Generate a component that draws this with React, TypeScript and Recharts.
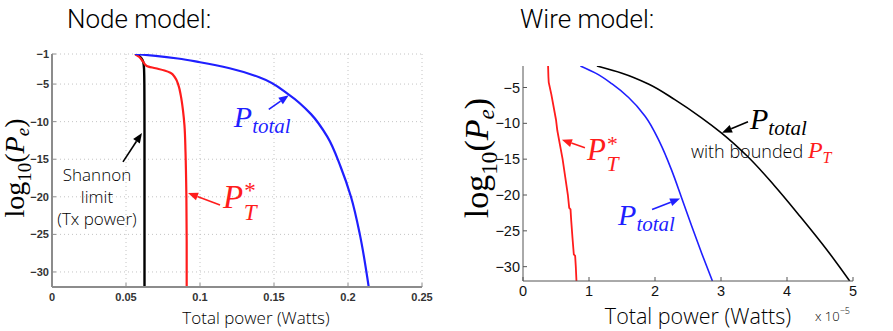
import React from 'react';
import { LineChart, Line, XAxis, YAxis, CartesianGrid, ReferenceDot } from 'recharts';

// node model: x in Watts, y = log10(Pe)
const nodeXTicks = [0, 0.05, 0.1, 0.15, 0.2, 0.25];
const nodeYTicks = [-30, -25, -20, -15, -10, -5, -1];
const nodeShannon = [
  { x: 0.0561, y: -1 }, { x: 0.0585, y: -1.2 }, { x: 0.0605, y: -1.6 }, { x: 0.0617, y: -2.1 },
  { x: 0.0622, y: -3 }, { x: 0.0624, y: -5 }, { x: 0.0625, y: -12 }, { x: 0.0625, y: -32 },
];
const nodePT = [
  { x: 0.0561, y: -1 }, { x: 0.059, y: -1.4 }, { x: 0.0615, y: -2.0 }, { x: 0.064, y: -2.6 },
  { x: 0.07, y: -2.9 }, { x: 0.076, y: -3.2 }, { x: 0.08, y: -3.5 }, { x: 0.083, y: -4.1 },
  { x: 0.0855, y: -5.2 }, { x: 0.087, y: -6.5 }, { x: 0.0885, y: -8.5 }, { x: 0.0895, y: -10.5 },
  { x: 0.0902, y: -14 }, { x: 0.0908, y: -20 }, { x: 0.091, y: -26 }, { x: 0.091, y: -32 },
];
const nodeTotal = [
  { x: 0.0561, y: -1 }, { x: 0.07, y: -1.25 }, { x: 0.085, y: -1.6 }, { x: 0.1, y: -2.1 },
  { x: 0.12, y: -2.9 }, { x: 0.14, y: -4.1 }, { x: 0.16, y: -6.4 }, { x: 0.175, y: -9 },
  { x: 0.186, y: -12 }, { x: 0.195, y: -16 }, { x: 0.202, y: -20 }, { x: 0.208, y: -25 },
  { x: 0.214, y: -32 },
];

// wire model: x in units of 1e-5 Watts
const wireXTicks = [0, 1, 2, 3, 4, 5];
const wireYTicks = [-30, -25, -20, -15, -10, -5];
const wirePT = [
  { x: 0.38, y: -2 }, { x: 0.385, y: -3.5 }, { x: 0.39, y: -4.3 }, { x: 0.43, y: -6 },
  { x: 0.47, y: -8 }, { x: 0.5, y: -9.5 }, { x: 0.52, y: -11 }, { x: 0.56, y: -13 },
  { x: 0.6, y: -15 }, { x: 0.64, y: -17.5 }, { x: 0.68, y: -20 }, { x: 0.7, y: -21.8 },
  { x: 0.72, y: -22 }, { x: 0.73, y: -23.5 }, { x: 0.75, y: -26 }, { x: 0.77, y: -28.3 },
  { x: 0.79, y: -28.5 }, { x: 0.8, y: -30 }, { x: 0.81, y: -32 },
];
const wireTotal = [
  { x: 0.87, y: -2 }, { x: 1.1, y: -3 }, { x: 1.35, y: -4.5 }, { x: 1.6, y: -6.4 },
  { x: 1.85, y: -9 }, { x: 2.08, y: -12.8 }, { x: 2.25, y: -16.5 }, { x: 2.4, y: -20.3 },
  { x: 2.55, y: -24.2 }, { x: 2.71, y: -28.2 }, { x: 2.87, y: -32 },
];
const wireBounded = [
  { x: 1.12, y: -2 }, { x: 1.5, y: -3.0 }, { x: 1.9, y: -4.5 }, { x: 2.3, y: -6.7 },
  { x: 2.7, y: -9.2 }, { x: 3.0, y: -11.3 }, { x: 3.4, y: -14.6 }, { x: 3.8, y: -18.6 },
  { x: 4.2, y: -23 }, { x: 4.6, y: -27.6 }, { x: 4.95, y: -32 },
];

const RED = '#ff1c1c';
const BLUE = '#1f1fff';
const SERIF = "'Liberation Serif', 'DejaVu Serif', serif";
const SANS = "'Open Sans', Roboto, sans-serif";
const TITLE = "Roboto, 'Open Sans', sans-serif";

const minus = (v: number) => String(v).replace('-', '\u2212');

function Arrow({ x1, y1, x2, y2, color }: { x1: number; y1: number; x2: number; y2: number; color: string }) {
  const a = Math.atan2(y2 - y1, x2 - x1);
  const len = 10;
  const w = 4;
  const bx = x2 - len * Math.cos(a);
  const by = y2 - len * Math.sin(a);
  const pts = `${x2},${y2} ${bx + w * Math.sin(a)},${by - w * Math.cos(a)} ${bx - w * Math.sin(a)},${by + w * Math.cos(a)}`;
  return (
    <g>
      <line x1={x1} y1={y1} x2={bx} y2={by} stroke={color} strokeWidth={1.6} />
      <polygon points={pts} fill={color} />
    </g>
  );
}

const PTotal = ({ x, y, color, size }: { x: number; y: number; color: string; size: number }) => (
  <text x={x} y={y} fill={color} fontFamily={SERIF} fontStyle="italic" fontSize={size}>
    <tspan>P</tspan>
    <tspan fontSize={size * 0.7} dy={size * 0.2}>total</tspan>
  </text>
);

const PStar = ({ x, y, color, size }: { x: number; y: number; color: string; size: number }) => (
  <text x={x} y={y} fill={color} fontFamily={SERIF} fontSize={size}>
    <tspan fontStyle="italic">P</tspan>
    <tspan fontSize={size * 0.7} dx={1} dy={-size * 0.3}>*</tspan>
    <tspan fontSize={size * 0.7} fontStyle="italic" dx={-size * 0.36} dy={size * 0.65}>T</tspan>
  </text>
);

const yLabel = (cx: number, cy: number, size: number) => (
  <text x={cx} y={cy} transform={`rotate(-90, ${cx}, ${cy})`} textAnchor="middle" fontFamily={SERIF} fontSize={size} fill="#000">
    <tspan>log</tspan>
    <tspan fontSize={size * 0.68} dy={size * 0.25}>10</tspan>
    <tspan dy={-size * 0.25}>(</tspan>
    <tspan fontStyle="italic">P</tspan>
    <tspan fontStyle="italic" fontSize={size * 0.68} dy={size * 0.18}>e</tspan>
    <tspan dy={-size * 0.18}>)</tspan>
  </text>
);

const NodeChart = () => {
  const axisStyle = { stroke: '#8c8c8c', strokeWidth: 2 };
  const tickStyle = { fontSize: 11, fontWeight: 700, fill: '#333', fontFamily: "'Liberation Sans', Arial, sans-serif" };
  return (
    <LineChart width={440} height={331} margin={{ top: 54, right: 18, left: 0, bottom: 0 }}>
      <CartesianGrid stroke="#c4c4c4" strokeDasharray="1 3" />
      <XAxis
        type="number" dataKey="x" domain={[0, 0.25]} ticks={nodeXTicks} height={44}
        axisLine={axisStyle} tickLine={{ stroke: '#8c8c8c' }} tickSize={-4} tickMargin={10}
        tick={tickStyle} allowDataOverflow
        label={{ content: () => (
          <text x={256} y={324} textAnchor="middle" fontFamily={SANS} fontWeight={300} fontSize={17} fill="#000">Total power (Watts)</text>
        ) }}
      />
      <XAxis xAxisId="t" orientation="top" type="number" domain={[0, 0.25]} ticks={nodeXTicks} height={0}
        axisLine={axisStyle} tickLine={{ stroke: '#8c8c8c' }} tickSize={-4} tick={false} />
      <YAxis
        type="number" domain={[-32, -1]} ticks={nodeYTicks} width={52}
        axisLine={axisStyle} tickLine={{ stroke: '#8c8c8c' }} tickSize={-4} tickMargin={7}
        tick={tickStyle} tickFormatter={minus} allowDataOverflow
        label={{ content: () => yLabel(24, 168, 28) }}
      />
      <YAxis yAxisId="r" orientation="right" type="number" domain={[-32, -1]} ticks={nodeYTicks} width={0}
        axisLine={axisStyle} tickLine={{ stroke: '#8c8c8c' }} tickSize={-4} tick={false} />
      <Line data={nodeShannon} dataKey="y" type="monotoneY" stroke="#000" strokeWidth={2.4} dot={false} isAnimationActive={false} />
      <Line data={nodePT} dataKey="y" type="monotoneY" stroke={RED} strokeWidth={2.2} dot={false} isAnimationActive={false} />
      <Line data={nodeTotal} dataKey="y" type="monotoneY" stroke={BLUE} strokeWidth={2.2} dot={false} isAnimationActive={false} />
      <ReferenceDot x={0.16} y={-6.5} shape={(p: any) => (
        <g>
          <Arrow x1={p.cx - 20} y1={p.cy + 14} x2={p.cx} y2={p.cy} color={BLUE} />
          <PTotal x={p.cx - 55} y={p.cy + 32} color={BLUE} size={30} />
        </g>
      )} />
      <ReferenceDot x={0.0608} y={-11.5} shape={(p: any) => (
        <g>
          <Arrow x1={p.cx - 19} y1={p.cy + 29} x2={p.cx} y2={p.cy} color="#000" />
          <text textAnchor="middle" fontFamily={SANS} fontWeight={300} fontSize={17} fill="#000">
            <tspan x={p.cx - 45} y={p.cy + 48}>Shannon</tspan>
            <tspan x={p.cx - 45} y={p.cy + 70}>limit</tspan>
            <tspan x={p.cx - 45} y={p.cy + 92}>(Tx power)</tspan>
          </text>
        </g>
      )} />
      <ReferenceDot x={0.0919} y={-19.5} shape={(p: any) => (
        <g>
          <Arrow x1={p.cx + 32} y1={p.cy + 12} x2={p.cx} y2={p.cy} color={RED} />
          <PStar x={p.cx + 35} y={p.cy + 15} color={RED} size={33} />
        </g>
      )} />
    </LineChart>
  );
};

const WireChart = () => {
  const axisStyle = { stroke: '#555', strokeWidth: 1 };
  const tickStyle = { fontSize: 14.5, fill: '#111', fontFamily: "'Liberation Sans', Arial, sans-serif" };
  return (
    <LineChart width={453} height={331} margin={{ top: 66, right: 40, left: 0, bottom: 0 }}>
      <XAxis
        type="number" dataKey="x" domain={[0, 5]} ticks={wireXTicks} height={50}
        axisLine={axisStyle} tickLine={{ stroke: '#555' }} tickSize={-4} tickMargin={9}
        tick={tickStyle} allowDataOverflow
        label={{ content: () => (
          <g>
            <text x={258} y={324} textAnchor="middle" fontFamily={SANS} fontWeight={300} fontSize={21.5} fill="#000">Total power (Watts)</text>
            <text x={375} y={321} fontFamily={SANS} fontWeight={300} fontSize={13} fill="#000">
              <tspan>x 10</tspan>
              <tspan fontSize={9} dy={-7}>{'\u22125'}</tspan>
            </text>
          </g>
        ) }}
      />
      <XAxis xAxisId="t" orientation="top" type="number" domain={[0, 5]} ticks={wireXTicks} height={0}
        axisLine={axisStyle} tickLine={{ stroke: '#555' }} tickSize={-4} tick={false} />
      <YAxis
        type="number" domain={[-32, -2]} ticks={wireYTicks} width={83}
        axisLine={axisStyle} tickLine={{ stroke: '#555' }} tickSize={-4} tickMargin={7}
        tick={tickStyle} tickFormatter={minus} allowDataOverflow
        label={{ content: () => yLabel(48, 158, 34) }}
      />
      <YAxis yAxisId="r" orientation="right" type="number" domain={[-32, -2]} ticks={wireYTicks} width={0}
        axisLine={axisStyle} tickLine={{ stroke: '#555' }} tickSize={-4} tick={false} />
      <Line data={wirePT} dataKey="y" type="linear" stroke={RED} strokeWidth={1.8} dot={false} isAnimationActive={false} />
      <Line data={wireTotal} dataKey="y" type="monotoneY" stroke={BLUE} strokeWidth={1.6} dot={false} isAnimationActive={false} />
      <Line data={wireBounded} dataKey="y" type="monotoneY" stroke="#000" strokeWidth={1.6} dot={false} isAnimationActive={false} />
      <ReferenceDot x={0.59} y={-12.3} shape={(p: any) => (
        <g>
          <Arrow x1={p.cx + 23} y1={p.cy + 8} x2={p.cx} y2={p.cy} color={RED} />
          <PStar x={p.cx + 25} y={p.cy + 20} color={RED} size={31} />
        </g>
      )} />
      <ReferenceDot x={2.38} y={-20.5} shape={(p: any) => (
        <g>
          <Arrow x1={p.cx - 28} y1={p.cy + 11} x2={p.cx} y2={p.cy} color={BLUE} />
          <PTotal x={p.cx - 62} y={p.cy + 26} color={BLUE} size={30} />
        </g>
      )} />
      <ReferenceDot x={3.015} y={-11.3} shape={(p: any) => (
        <g>
          <Arrow x1={p.cx + 26} y1={p.cy - 11} x2={p.cx} y2={p.cy} color="#000" />
          <PTotal x={p.cx + 28} y={p.cy - 4} color="#000" size={30} />
          <text x={p.cx - 31} y={p.cy + 25} fontFamily={SANS} fontWeight={300} fontSize={18} fill="#000">
            <tspan>with bounded </tspan>
            <tspan fontFamily={SERIF} fontStyle="italic" fontSize={24} fill={RED}>P</tspan>
            <tspan fontFamily={SERIF} fontStyle="italic" fontSize={16} fill={RED} dy={5}>T</tspan>
          </text>
        </g>
      )} />
    </LineChart>
  );
};

export default function App() {
  return (
    <div style={{ position: 'absolute', left: 0, top: 0, width: 893, height: 331, background: '#fff', overflow: 'hidden' }}>
      <div style={{ position: 'absolute', left: 67, top: 4, fontFamily: TITLE, fontWeight: 300, fontSize: 26, color: '#000' }}>Node model:</div>
      <div style={{ position: 'absolute', left: 520, top: 4, fontFamily: TITLE, fontWeight: 300, fontSize: 26, color: '#000' }}>Wire model:</div>
      <div style={{ position: 'absolute', left: 0, top: 0 }}>
        <NodeChart />
      </div>
      <div style={{ position: 'absolute', left: 440, top: 0 }}>
        <WireChart />
      </div>
    </div>
  );
}
